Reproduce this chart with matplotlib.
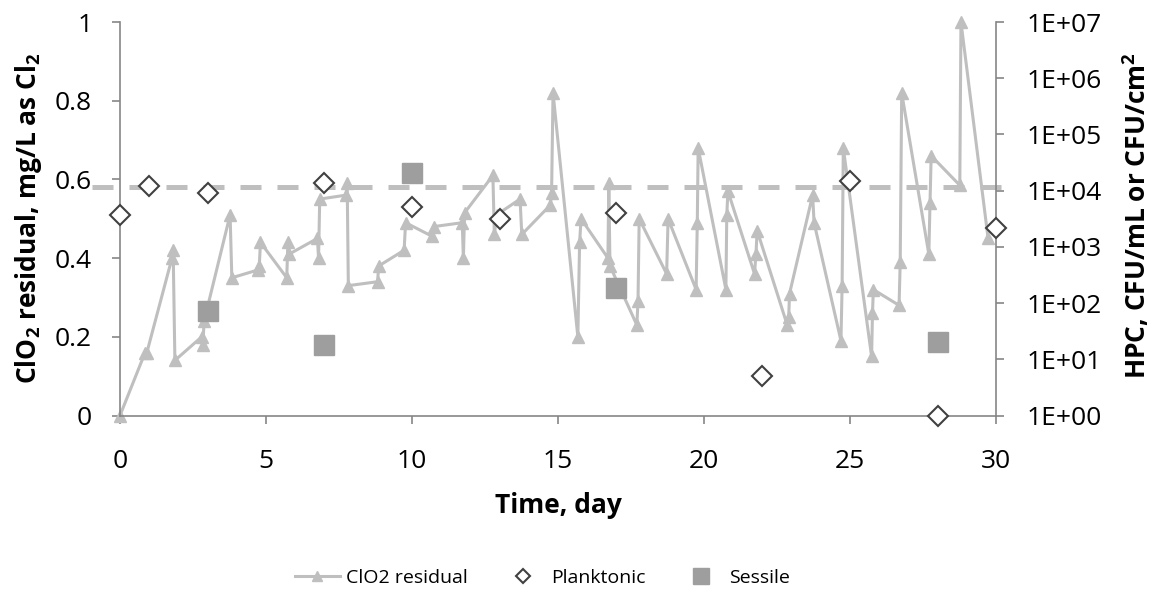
import matplotlib
matplotlib.use("Agg")
import matplotlib.pyplot as plt
from matplotlib.ticker import FuncFormatter, NullLocator, FixedLocator

plt.rcParams['font.family'] = ['Open Sans', 'DejaVu Sans']
plt.rcParams['mathtext.fontset'] = 'custom'
plt.rcParams['mathtext.bf'] = 'Open Sans:bold'
plt.rcParams['mathtext.rm'] = 'Open Sans:bold'
plt.rcParams['mathtext.default'] = 'bf'

# Datos
t_clo2 = [0, 0.86, 0.92, 1.78, 1.82, 1.88, 2.80, 2.84, 2.88, 3.77, 3.83,
          4.73, 4.77, 4.81, 5.71, 5.75, 5.79, 6.76, 6.80, 6.84, 7.74, 7.78,
          7.82, 8.82, 8.86, 9.73, 9.78, 10.70, 10.74, 11.72, 11.76, 11.80,
          12.77, 12.82, 12.90, 13.70, 13.76, 14.74, 14.78, 14.83, 15.68,
          15.74, 15.79, 16.71, 16.74, 16.78, 17.70, 17.74, 17.78, 18.72,
          18.77, 19.73, 19.77, 19.80, 20.75, 20.78, 20.82, 21.73, 21.78,
          21.82, 22.85, 22.90, 22.93, 23.72, 23.77, 24.69, 24.73, 24.77,
          25.74, 25.77, 25.80, 26.68, 26.72, 26.77, 27.70, 27.74, 27.78,
          28.76, 28.80, 29.73]
clo2 = [0, 0.16, 0.16, 0.40, 0.42, 0.14, 0.20, 0.18, 0.24, 0.51, 0.35,
        0.37, 0.38, 0.44, 0.35, 0.44, 0.41, 0.45, 0.40, 0.55, 0.56, 0.59,
        0.33, 0.34, 0.38, 0.42, 0.49, 0.455, 0.48, 0.49, 0.40, 0.515,
        0.61, 0.46, 0.51, 0.55, 0.46, 0.535, 0.565, 0.82, 0.20,
        0.44, 0.50, 0.40, 0.59, 0.38, 0.23, 0.29, 0.50, 0.36,
        0.50, 0.32, 0.49, 0.68, 0.32, 0.51, 0.57, 0.36, 0.41,
        0.47, 0.23, 0.25, 0.31, 0.56, 0.49, 0.19, 0.33, 0.68,
        0.15, 0.26, 0.32, 0.28, 0.39, 0.82, 0.41, 0.54, 0.66,
        0.585, 1.0, 0.45]

t_plank = [0, 1, 3, 7, 10, 13, 17, 22, 25, 28, 30]
plank = [3700, 12000, 9100, 13700, 5100, 3150, 4000, 5, 14900, 1, 2170]

t_sess = [3, 7, 10, 17, 28]
sess = [72, 18, 20600, 186, 20]

limite_x = [-0.95, 30.25]
limite = 0.58

gris_eje = '#868686'

fig = plt.figure(figsize=(11.53, 5.93), dpi=100)
ax = fig.add_axes([120 / 1153, 1 - 415.5 / 593, 876 / 1153, 393.5 / 593])
ax2 = ax.twinx()

l1, = ax.plot(t_clo2, clo2, color='#BFBFBF', lw=2.2, marker='^', ms=9,
              mec='#BFBFBF', mfc='#BFBFBF', label='ClO2 residual', clip_on=False)
ax.plot(limite_x, [limite, limite], color='#BFBFBF', lw=3.6,
        dashes=(4.2, 3.2), clip_on=False, zorder=3)

l2, = ax2.plot(t_plank, plank, ls='none', marker='D', ms=10, mfc='white',
               mec='#404040', mew=1.5, label='Planktonic', clip_on=False, zorder=4)
l3, = ax2.plot(t_sess, sess, ls='none', marker='s', ms=14.5, mfc='#9E9E9E',
               mec='#9E9E9E', label='Sessile', clip_on=False, zorder=3)

ax.set_xlim(0, 30)
ax.set_ylim(0, 1)
ax.set_xticks([0, 5, 10, 15, 20, 25, 30])
ax.set_yticks([0, 0.2, 0.4, 0.6, 0.8, 1.0])
ax.set_yticklabels(['0', '0.2', '0.4', '0.6', '0.8', '1'])

ax2.set_yscale('log')
ax2.set_ylim(1, 1e7)
ax2.yaxis.set_major_locator(FixedLocator([10 ** k for k in range(8)]))
ax2.yaxis.set_minor_locator(NullLocator())
ax2.yaxis.set_major_formatter(FuncFormatter(lambda v, p: f"{v:.0E}"))

for a in (ax, ax2):
    a.spines['top'].set_visible(False)
    for s in ('left', 'right', 'bottom'):
        a.spines[s].set_color(gris_eje)
        a.spines[s].set_linewidth(1.2)
    a.tick_params(axis='both', direction='out', length=6, width=1.2,
                  color=gris_eje, labelsize=19, pad=14, labelcolor='black')
ax.tick_params(axis='x', pad=18)
ax2.tick_params(axis='y', pad=16)
ax.spines['right'].set_visible(False)
ax2.spines['left'].set_visible(False)
ax2.spines['bottom'].set_visible(False)

fig.text(0.0243, 0.632, r'ClO$_2$ residual, mg/L as Cl$_2$', rotation=90,
         ha='center', va='center', fontsize=19, fontweight='bold')
fig.text(0.986, 0.637, r'HPC, CFU/mL or CFU/cm$^2$', rotation=90,
         ha='center', va='center', fontsize=19, fontweight='bold')
fig.text(0.484, 0.148, 'Time, day', ha='center', va='center',
         fontsize=19, fontweight='bold')

fig.legend(handles=[l1, l2, l3], loc='center', bbox_to_anchor=(0.4705, 0.025),
           ncol=3, frameon=False, fontsize=14, handlelength=2.3,
           columnspacing=1.7, handletextpad=0.3, markerscale=0.75)

fig.savefig('out.png', dpi=100)
